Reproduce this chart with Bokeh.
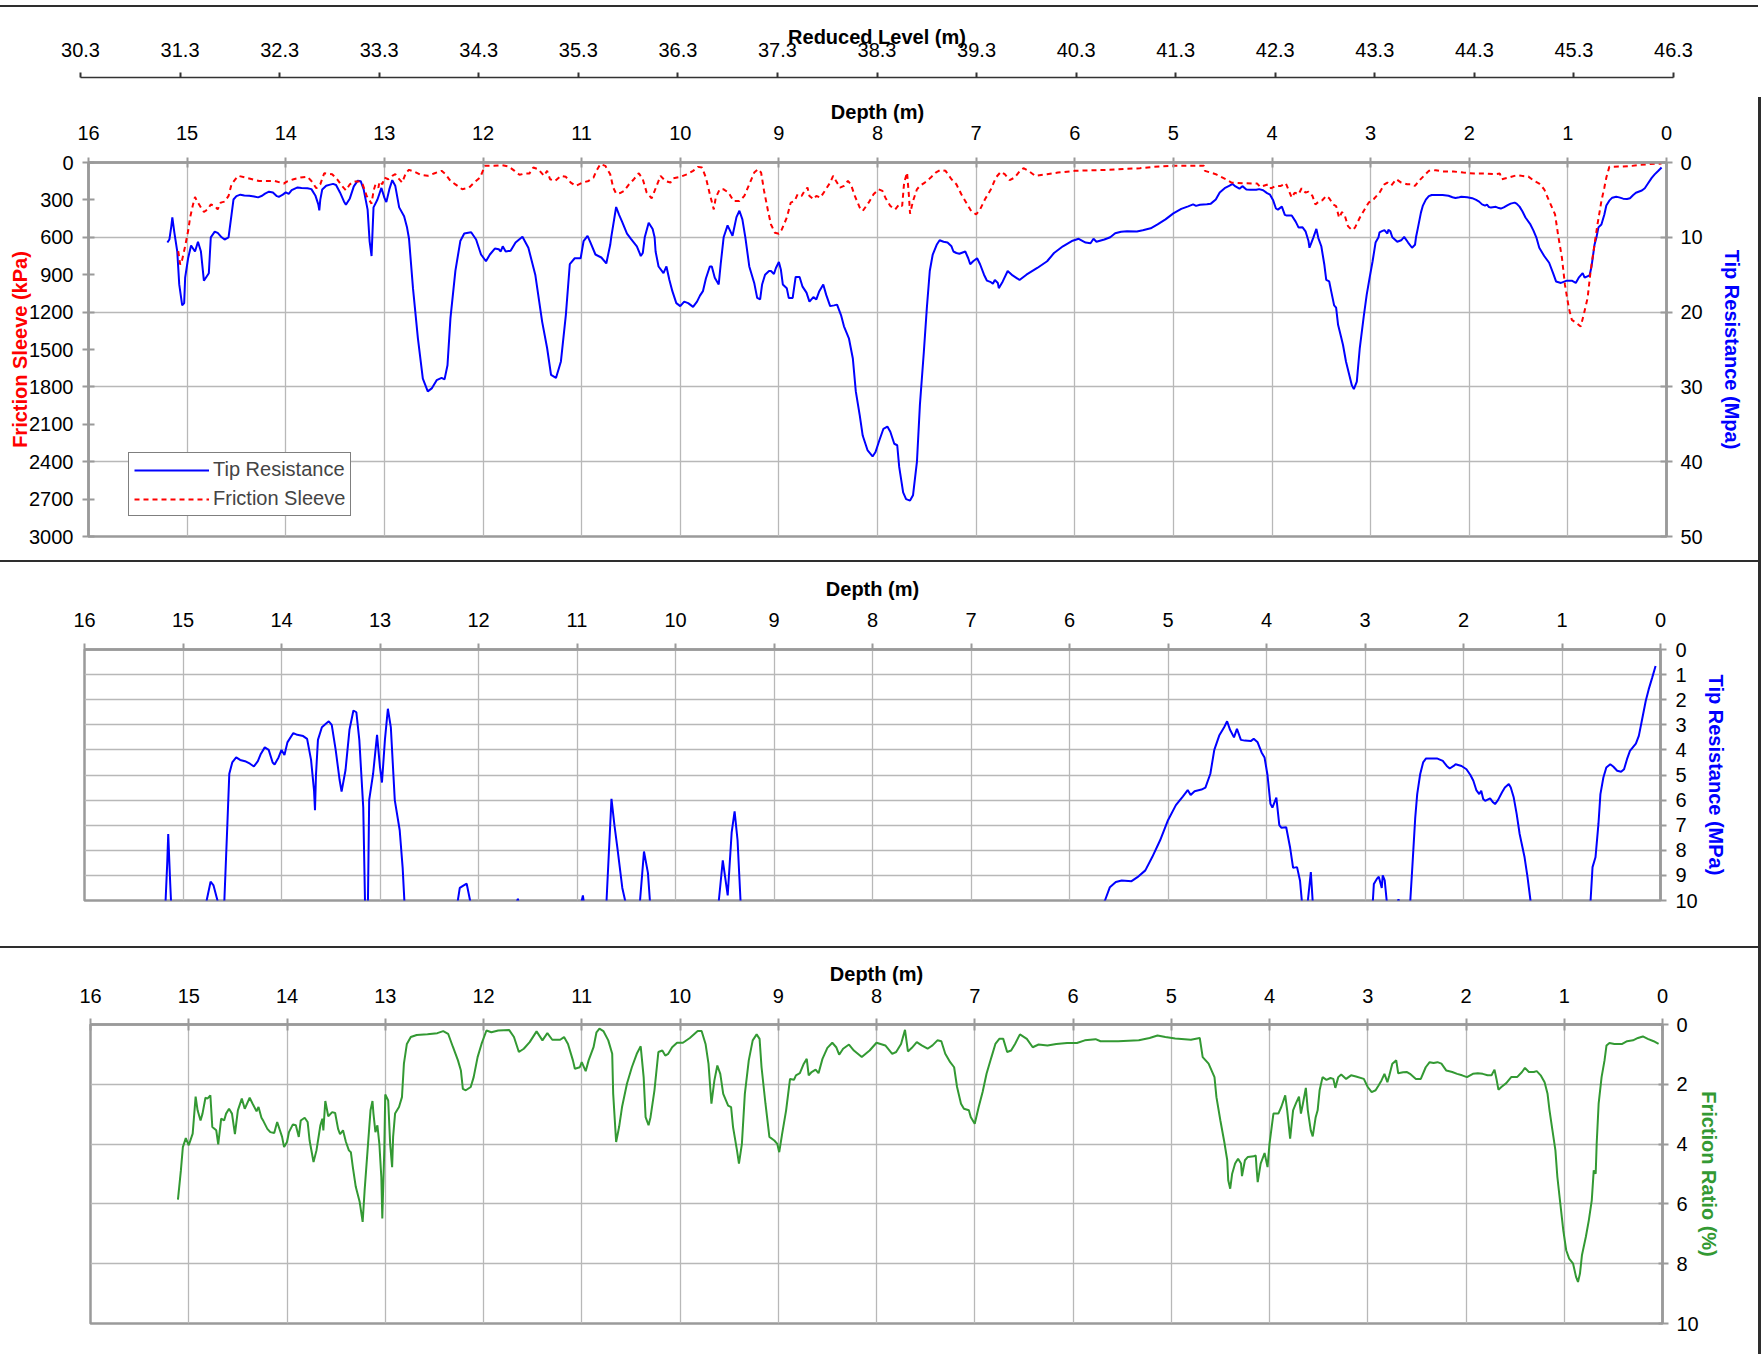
from bokeh.plotting import figure
from bokeh.models import (Range1d, LinearAxis, FixedTicker, Legend, LegendItem, Div,
                          CustomJSTickFormatter)
from bokeh.layouts import column, row
from bokeh.embed import file_html
from bokeh.resources import INLINE

# ---------------- data ----------------
RL_TICKS = [30.3, 31.3, 32.3, 33.3, 34.3, 35.3, 36.3, 37.3, 38.3, 39.3, 40.3,
            41.3, 42.3, 43.3, 44.3, 45.3, 46.3]
DEPTH_TICKS = [0, 1, 2, 3, 4, 5, 6, 7, 8, 9, 10, 11, 12, 13, 14, 15, 16]
FS_TICKS = [0, 300, 600, 900, 1200, 1500, 1800, 2100, 2400, 2700, 3000]
TIP_TICKS = [0, 10, 20, 30, 40, 50]
TIP_ZOOM_TICKS = [0, 1, 2, 3, 4, 5, 6, 7, 8, 9, 10]
FR_TICKS = [0, 2, 4, 6, 8, 10]

TIP_DEPTH = [
    15.20, 15.18, 15.16, 15.15, 15.13, 15.10, 15.08, 15.05, 15.03, 15.02,
    14.99, 14.96, 14.92, 14.89, 14.86, 14.83, 14.78, 14.76, 14.72, 14.69,
    14.65, 14.62, 14.58, 14.55, 14.53, 14.50, 14.46, 14.42, 14.37, 14.32,
    14.28, 14.24, 14.21, 14.17, 14.13, 14.09, 14.07, 14.03, 14.00, 13.97,
    13.94, 13.88, 13.84, 13.78, 13.74, 13.70, 13.67, 13.66, 13.65, 13.63,
    13.59, 13.55, 13.52, 13.49, 13.45, 13.41, 13.39, 13.35, 13.31, 13.27,
    13.24, 13.21, 13.17, 13.15, 13.13, 13.11, 13.07, 13.03, 13.00, 12.98,
    12.95, 12.92, 12.89, 12.85, 12.80, 12.77, 12.75, 12.71, 12.66, 12.61,
    12.56, 12.52, 12.47, 12.42, 12.39, 12.36, 12.33, 12.28, 12.23, 12.19,
    12.15, 12.12, 12.07, 12.02, 11.97, 11.93, 11.88, 11.84, 11.82, 11.80,
    11.77, 11.72, 11.67, 11.60, 11.54, 11.47, 11.40, 11.35, 11.31, 11.26,
    11.21, 11.16, 11.12, 11.07, 11.01, 10.98, 10.94, 10.91, 10.86, 10.80,
    10.75, 10.71, 10.70, 10.65, 10.62, 10.59, 10.54, 10.50, 10.44, 10.40,
    10.38, 10.36, 10.32, 10.28, 10.26, 10.25, 10.22, 10.17, 10.14, 10.11,
    10.08, 10.04, 10.00, 9.96, 9.92, 9.87, 9.83, 9.80, 9.77, 9.74,
    9.70, 9.68, 9.65, 9.61, 9.59, 9.56, 9.52, 9.47, 9.43, 9.40,
    9.37, 9.34, 9.30, 9.25, 9.22, 9.19, 9.17, 9.14, 9.10, 9.08,
    9.05, 9.03, 9.00, 8.98, 8.96, 8.92, 8.90, 8.86, 8.83, 8.79,
    8.76, 8.72, 8.69, 8.65, 8.62, 8.59, 8.55, 8.52, 8.48, 8.44,
    8.41, 8.37, 8.34, 8.29, 8.25, 8.22, 8.18, 8.15, 8.10, 8.05,
    8.02, 7.98, 7.94, 7.90, 7.87, 7.83, 7.80, 7.78, 7.74, 7.71,
    7.67, 7.64, 7.60, 7.57, 7.53, 7.50, 7.47, 7.44, 7.40, 7.37,
    7.33, 7.29, 7.25, 7.23, 7.20, 7.17, 7.11, 7.08, 7.06, 7.03,
    6.99, 6.96, 6.92, 6.89, 6.85, 6.83, 6.81, 6.78, 6.77, 6.73,
    6.68, 6.63, 6.56, 6.49, 6.38, 6.28, 6.21, 6.12, 6.03, 5.96,
    5.89, 5.84, 5.81, 5.78, 5.70, 5.64, 5.59, 5.53, 5.47, 5.37,
    5.31, 5.23, 5.16, 5.08, 5.00, 4.92, 4.85, 4.80, 4.77, 4.73,
    4.66, 4.62, 4.57, 4.53, 4.48, 4.43, 4.40, 4.37, 4.33, 4.30,
    4.26, 4.22, 4.16, 4.13, 4.09, 4.05, 4.02, 3.99, 3.96, 3.94,
    3.90, 3.87, 3.85, 3.80, 3.76, 3.73, 3.69, 3.66, 3.63, 3.62,
    3.60, 3.58, 3.55, 3.53, 3.50, 3.47, 3.45, 3.42, 3.40, 3.37,
    3.35, 3.33, 3.30, 3.28, 3.25, 3.22, 3.19, 3.17, 3.14, 3.11,
    3.07, 3.04, 3.01, 2.98, 2.95, 2.92, 2.91, 2.88, 2.86, 2.83,
    2.82, 2.80, 2.78, 2.73, 2.69, 2.66, 2.62, 2.58, 2.55, 2.54,
    2.52, 2.49, 2.47, 2.44, 2.41, 2.38, 2.32, 2.27, 2.21, 2.17,
    2.14, 2.10, 2.08, 2.02, 1.97, 1.93, 1.90, 1.87, 1.84, 1.82,
    1.80, 1.78, 1.73, 1.70, 1.68, 1.65, 1.61, 1.58, 1.54, 1.52,
    1.49, 1.46, 1.43, 1.38, 1.35, 1.32, 1.29, 1.24, 1.19, 1.15,
    1.12, 1.07, 1.01, 0.96, 0.92, 0.89, 0.85, 0.83, 0.78, 0.76,
    0.73, 0.71, 0.69, 0.66, 0.63, 0.61, 0.58, 0.55, 0.51, 0.48,
    0.44, 0.40, 0.37, 0.34, 0.31, 0.25, 0.22, 0.19, 0.15, 0.12,
    0.085, 0.05]
TIP_MPA = [
    10.7, 10.3, 8.5, 7.35, 9.3, 11.9, 16.3, 19.1, 18.8, 15.4,
    12.8, 11.1, 11.9, 10.6, 11.9, 15.8, 14.8, 10.0, 9.25, 9.4,
    10.0, 10.3, 10.0, 7.0, 4.95, 4.5, 4.3, 4.4, 4.45, 4.55,
    4.66, 4.45, 4.16, 3.9, 4.0, 4.5, 4.58, 4.3, 4.0, 4.2,
    3.7, 3.33, 3.4, 3.45, 3.56, 4.4, 5.6, 6.4, 5.0, 3.6,
    3.1, 2.96, 2.86, 3.0, 4.0, 5.2, 5.66, 4.8, 3.2, 2.43,
    2.5, 3.6, 6.3, 10.5, 12.5, 6.0, 4.95, 3.4, 4.7, 5.3,
    3.6, 2.36, 3.1, 6.0, 7.2, 8.7, 10.2, 16.8, 23.5, 28.9,
    30.6, 30.2, 29.1, 28.8, 29.0, 27.1, 20.8, 14.5, 10.5, 9.5,
    9.4, 9.33, 10.3, 12.3, 13.2, 12.3, 11.5, 11.6, 11.9, 11.2,
    11.9, 11.8, 10.7, 9.93, 11.4, 15.0, 21.3, 24.8, 28.4, 28.8,
    26.6, 20.4, 13.6, 12.8, 12.8, 10.5, 9.8, 10.7, 12.3, 12.7,
    13.5, 11.0, 10.0, 5.95, 7.0, 7.9, 9.5, 10.2, 11.2, 12.5,
    12.1, 10.0, 8.05, 8.9, 10.0, 11.9, 13.9, 14.8, 13.9, 15.7,
    17.2, 18.8, 19.2, 18.6, 18.8, 19.3, 18.6, 17.8, 17.2, 15.5,
    13.9, 13.9, 15.4, 16.3, 13.6, 10.0, 8.4, 9.8, 7.3, 6.45,
    7.6, 10.0, 13.9, 16.1, 18.1, 18.3, 16.3, 15.0, 14.5, 14.5,
    14.9, 14.1, 13.3, 14.3, 16.3, 16.8, 18.1, 18.1, 15.3, 15.3,
    16.6, 17.4, 18.6, 18.0, 18.3, 17.2, 16.3, 17.7, 19.2, 19.1,
    19.0, 20.4, 21.9, 23.5, 26.2, 30.6, 33.8, 36.5, 38.5, 39.3,
    38.7, 37.1, 35.6, 35.3, 36.0, 37.6, 37.8, 40.7, 44.1, 45.0,
    45.2, 44.5, 40.0, 32.4, 25.3, 19.5, 14.5, 12.3, 11.0, 10.4,
    10.6, 10.7, 11.2, 11.9, 12.1, 12.2, 11.9, 12.8, 13.6, 13.2,
    12.8, 13.6, 15.0, 15.8, 16.0, 16.2, 15.7, 16.1, 16.8, 15.9,
    14.5, 15.1, 15.7, 15.0, 14.1, 13.2, 12.1, 11.2, 10.5, 10.2,
    10.7, 10.8, 10.2, 10.6, 10.3, 10.0, 9.47, 9.26, 9.2, 9.23,
    9.07, 8.8, 8.27, 7.6, 6.8, 6.2, 5.86, 5.6, 5.8, 5.65,
    5.58, 5.5, 4.95, 4.0, 3.43, 3.1, 2.86, 3.2, 3.5, 3.16,
    3.6, 3.63, 3.65, 3.56, 3.7, 4.1, 4.3, 5.0, 6.15, 6.3,
    5.9, 7.0, 7.1, 7.08, 7.9, 8.7, 8.67, 9.2, 10.5, 11.4,
    10.7, 10.0, 8.87, 10.1, 11.2, 13.6, 15.7, 15.9, 17.2, 19.1,
    19.4, 21.7, 23.3, 24.4, 26.6, 28.2, 29.8, 30.3, 29.3, 24.8,
    20.6, 17.7, 15.4, 13.2, 10.7, 10.0, 9.34, 9.14, 9.05, 9.5,
    9.0, 9.2, 10.0, 10.6, 10.4, 9.95, 10.7, 11.4, 11.0, 10.0,
    8.7, 6.7, 5.76, 4.97, 4.5, 4.34, 4.34, 4.34, 4.44, 4.64,
    4.74, 4.64, 4.57, 4.64, 4.77, 5.0, 5.23, 5.6, 5.76, 5.63,
    5.96, 6.03, 5.93, 6.09, 6.16, 6.0, 5.7, 5.5, 5.36, 5.5,
    5.9, 6.56, 7.35, 8.28, 9.07, 10.0, 11.4, 12.5, 13.4, 14.8,
    15.9, 16.1, 15.8, 15.8, 16.1, 15.4, 14.8, 15.4, 15.1, 13.9,
    11.0, 10.0, 8.67, 8.28, 6.95, 5.76, 5.1, 4.7, 4.57, 4.66,
    4.83, 4.87, 4.77, 4.37, 4.04, 3.75, 3.44, 2.85, 2.05, 1.59,
    1.13, 0.66]

FS_DEPTH = [
    15.09, 15.07, 15.05, 15.02, 14.99, 14.97, 14.94, 14.92, 14.90, 14.86,
    14.83, 14.79, 14.76, 14.72, 14.69, 14.66, 14.62, 14.58, 14.55, 14.51,
    14.48, 14.41, 14.34, 14.27, 14.20, 14.11, 14.02, 13.99, 13.92, 13.85,
    13.78, 13.74, 13.69, 13.65, 13.61, 13.53, 13.48, 13.43, 13.39, 13.35,
    13.31, 13.25, 13.22, 13.18, 13.13, 13.11, 13.09, 13.06, 13.05, 13.02,
    13.00, 12.96, 12.92, 12.89, 12.85, 12.82, 12.78, 12.75, 12.70, 12.63,
    12.56, 12.49, 12.42, 12.38, 12.33, 12.28, 12.21, 12.14, 12.09, 12.03,
    11.98, 11.89, 11.81, 11.74, 11.68, 11.63, 11.58, 11.53, 11.49, 11.44,
    11.38, 11.35, 11.32, 11.27, 11.21, 11.16, 11.11, 11.06, 10.99, 10.93,
    10.88, 10.85, 10.81, 10.76, 10.71, 10.68, 10.65, 10.61, 10.57, 10.52,
    10.47, 10.42, 10.38, 10.34, 10.29, 10.26, 10.20, 10.15, 10.10, 10.07,
    10.00, 9.93, 9.87, 9.82, 9.78, 9.74, 9.70, 9.66, 9.64, 9.60,
    9.56, 9.51, 9.46, 9.40, 9.35, 9.30, 9.25, 9.21, 9.18, 9.15,
    9.11, 9.08, 9.04, 9.00, 8.97, 8.92, 8.88, 8.84, 8.81, 8.77,
    8.74, 8.71, 8.69, 8.65, 8.62, 8.58, 8.53, 8.48, 8.45, 8.42,
    8.38, 8.34, 8.30, 8.27, 8.23, 8.18, 8.15, 8.09, 8.04, 7.99,
    7.95, 7.92, 7.87, 7.82, 7.78, 7.75, 7.73, 7.70, 7.68, 7.67,
    7.64, 7.60, 7.57, 7.52, 7.46, 7.41, 7.36, 7.31, 7.25, 7.20,
    7.15, 7.10, 7.05, 7.00, 6.96, 6.91, 6.85, 6.80, 6.75, 6.71,
    6.66, 6.61, 6.56, 6.52, 6.47, 6.40, 6.28, 6.17, 6.00, 5.82,
    5.65, 5.47, 5.34, 5.20, 5.00, 4.82, 4.69, 4.68, 4.57, 4.47,
    4.41, 4.29, 4.15, 4.12, 4.04, 4.01, 3.96, 3.91, 3.86, 3.80,
    3.77, 3.73, 3.70, 3.66, 3.63, 3.59, 3.56, 3.52, 3.49, 3.45,
    3.42, 3.38, 3.35, 3.32, 3.29, 3.26, 3.23, 3.19, 3.16, 3.11,
    3.05, 3.02, 2.97, 2.91, 2.86, 2.83, 2.79, 2.74, 2.69, 2.63,
    2.58, 2.55, 2.51, 2.46, 2.41, 2.34, 2.27, 2.16, 2.06, 1.95,
    1.85, 1.74, 1.69, 1.67, 1.60, 1.52, 1.47, 1.40, 1.34, 1.29,
    1.24, 1.19, 1.13, 1.10, 1.06, 1.03, 0.99, 0.96, 0.91, 0.87,
    0.84, 0.80, 0.77, 0.73, 0.70, 0.66, 0.63, 0.61, 0.58, 0.45,
    0.35, 0.28, 0.17, 0.05]
FS_KPA = [
    711, 819, 779, 671, 550, 443, 336, 277, 309, 362,
    397, 376, 336, 349, 376, 322, 314, 268, 175, 134,
    107, 121, 134, 148, 148, 148, 169, 153, 134, 121,
    115, 148, 207, 175, 86, 94, 134, 188, 223, 175,
    153, 153, 175, 268, 330, 228, 175, 201, 153, 175,
    121, 134, 107, 94, 134, 161, 81, 59, 72, 99,
    107, 86, 67, 94, 148, 175, 215, 201, 161, 121,
    27, 27, 21, 32, 67, 99, 89, 89, 40, 54,
    107, 67, 134, 148, 107, 115, 161, 188, 161, 148,
    121, 67, 13, 27, 94, 201, 250, 245, 228, 175,
    134, 86, 134, 242, 287, 228, 107, 148, 161, 126,
    115, 94, 67, 35, 40, 121, 255, 376, 282, 215,
    215, 242, 309, 309, 268, 175, 81, 54, 81, 228,
    389, 497, 564, 572, 537, 443, 322, 309, 255, 268,
    228, 201, 268, 295, 268, 282, 223, 161, 107, 148,
    201, 188, 148, 175, 268, 362, 389, 322, 255, 215,
    228, 282, 349, 376, 336, 349, 161, 81, 282, 411,
    309, 215, 188, 161, 121, 81, 59, 67, 134, 175,
    255, 322, 389, 416, 376, 295, 215, 121, 75, 94,
    142, 121, 72, 46, 67, 107, 94, 81, 67, 62,
    59, 51, 46, 35, 27, 27, 27, 67, 94, 134,
    161, 166, 169, 196, 175, 207, 188, 188, 166, 282,
    242, 255, 207, 242, 234, 268, 336, 309, 303, 268,
    287, 336, 349, 443, 397, 430, 510, 542, 524, 443,
    362, 322, 295, 242, 175, 161, 183, 134, 161, 175,
    175, 188, 148, 107, 67, 62, 72, 72, 81, 89,
    89, 94, 89, 134, 121, 102, 107, 113, 148, 169,
    215, 309, 416, 577, 765, 980, 1168, 1262, 1289, 1316,
    1222, 1087, 873, 658, 497, 309, 201, 121, 35, 32,
    27, 19, 13, 8]

FR_DEPTH = [
    15.11, 15.08, 15.06, 15.03, 15.00, 14.96, 14.93, 14.91, 14.88, 14.86,
    14.83, 14.81, 14.78, 14.76, 14.72, 14.70, 14.67, 14.64, 14.62, 14.59,
    14.56, 14.53, 14.50, 14.46, 14.43, 14.38, 14.35, 14.31, 14.29, 14.26,
    14.24, 14.20, 14.17, 14.13, 14.10, 14.05, 14.03, 14.00, 13.98, 13.94,
    13.91, 13.88, 13.86, 13.82, 13.79, 13.77, 13.73, 13.70, 13.66, 13.64,
    13.63, 13.61, 13.58, 13.54, 13.51, 13.48, 13.46, 13.43, 13.40, 13.37,
    13.35, 13.33, 13.30, 13.26, 13.23, 13.21, 13.18, 13.15, 13.13, 13.12,
    13.10, 13.08, 13.06, 13.04, 13.03, 13.01, 13.00, 12.97, 12.95, 12.93,
    12.92, 12.90, 12.86, 12.83, 12.81, 12.78, 12.74, 12.68, 12.57, 12.47,
    12.41, 12.36, 12.31, 12.26, 12.23, 12.21, 12.18, 12.13, 12.10, 12.06,
    12.02, 11.97, 11.92, 11.85, 11.74, 11.69, 11.64, 11.59, 11.53, 11.46,
    11.40, 11.35, 11.30, 11.22, 11.18, 11.14, 11.09, 11.07, 11.02, 11.00,
    10.96, 10.93, 10.88, 10.85, 10.82, 10.78, 10.73, 10.69, 10.68, 10.65,
    10.62, 10.59, 10.54, 10.49, 10.44, 10.40, 10.37, 10.35, 10.32, 10.30,
    10.26, 10.22, 10.18, 10.15, 10.12, 10.08, 10.03, 9.97, 9.90, 9.82,
    9.78, 9.74, 9.71, 9.68, 9.65, 9.62, 9.59, 9.56, 9.51, 9.48,
    9.46, 9.42, 9.40, 9.37, 9.34, 9.30, 9.26, 9.22, 9.19, 9.17,
    9.13, 9.09, 9.04, 9.01, 8.99, 8.96, 8.92, 8.88, 8.84, 8.82,
    8.78, 8.74, 8.71, 8.69, 8.66, 8.62, 8.59, 8.55, 8.50, 8.45,
    8.41, 8.38, 8.34, 8.28, 8.23, 8.15, 8.07, 8.00, 7.91, 7.84,
    7.80, 7.75, 7.71, 7.68, 7.64, 7.59, 7.54, 7.48, 7.43, 7.38,
    7.34, 7.30, 7.25, 7.21, 7.18, 7.14, 7.11, 7.06, 7.04, 7.00,
    6.96, 6.92, 6.88, 6.83, 6.79, 6.75, 6.71, 6.67, 6.63, 6.59,
    6.54, 6.47, 6.41, 6.35, 6.26, 6.17, 6.06, 5.96, 5.88, 5.77,
    5.72, 5.54, 5.33, 5.22, 5.14, 5.06, 4.96, 4.80, 4.71, 4.68,
    4.62, 4.56, 4.54, 4.50, 4.46, 4.43, 4.42, 4.40, 4.38, 4.35,
    4.32, 4.29, 4.28, 4.25, 4.22, 4.16, 4.14, 4.13, 4.12, 4.09,
    4.05, 4.02, 4.00, 3.96, 3.91, 3.88, 3.84, 3.82, 3.79, 3.76,
    3.73, 3.70, 3.68, 3.66, 3.63, 3.61, 3.58, 3.56, 3.53, 3.51,
    3.49, 3.46, 3.42, 3.38, 3.35, 3.33, 3.30, 3.27, 3.22, 3.17,
    3.12, 3.04, 3.00, 2.96, 2.92, 2.89, 2.86, 2.83, 2.80, 2.78,
    2.75, 2.71, 2.69, 2.64, 2.60, 2.57, 2.51, 2.46, 2.41, 2.37,
    2.33, 2.29, 2.25, 2.20, 2.14, 2.09, 2.04, 1.99, 1.93, 1.88,
    1.83, 1.78, 1.74, 1.71, 1.69, 1.67, 1.64, 1.59, 1.54, 1.48,
    1.43, 1.40, 1.36, 1.31, 1.28, 1.24, 1.20, 1.17, 1.15, 1.12,
    1.09, 1.07, 1.04, 1.01, 0.98, 0.95, 0.91, 0.88, 0.86, 0.84,
    0.82, 0.78, 0.75, 0.72, 0.71, 0.70, 0.68, 0.67, 0.65, 0.62,
    0.59, 0.57, 0.54, 0.49, 0.41, 0.36, 0.30, 0.25, 0.20, 0.15,
    0.09, 0.04]
FR_PCT = [
    5.86, 4.88, 4.10, 3.80, 4.04, 3.65, 2.41, 2.87, 3.21, 2.98,
    2.45, 2.48, 2.37, 3.43, 3.54, 4.01, 3.15, 3.21, 2.98, 2.82,
    2.98, 3.67, 2.87, 2.48, 2.82, 2.45, 2.65, 2.90, 2.76, 3.12,
    3.23, 3.49, 3.60, 3.63, 3.26, 3.76, 4.10, 3.93, 3.60, 3.34,
    3.37, 3.76, 3.21, 3.12, 3.26, 3.88, 4.60, 4.21, 3.37, 3.15,
    3.54, 2.56, 3.07, 2.93, 2.96, 3.49, 3.67, 3.54, 3.93, 4.21,
    4.27, 4.77, 5.43, 5.94, 6.60, 5.55, 4.21, 2.87, 2.56, 2.98,
    3.60, 3.37, 3.99, 5.10, 6.49, 4.21, 2.34, 2.54, 3.99, 4.77,
    3.76, 2.98, 2.76, 2.43, 1.31, 0.65, 0.42, 0.35, 0.33, 0.29,
    0.22, 0.31, 0.76, 1.20, 1.54, 2.15, 2.20, 2.09, 1.76, 1.09,
    0.65, 0.20, 0.26, 0.20, 0.18, 0.42, 0.92, 0.81, 0.59, 0.23,
    0.53, 0.29, 0.51, 0.51, 0.42, 0.65, 1.20, 1.48, 1.43, 1.26,
    1.56, 1.20, 0.76, 0.26, 0.14, 0.22, 0.53, 0.98, 2.32, 3.93,
    3.43, 2.76, 1.98, 1.43, 0.98, 0.73, 1.76, 3.10, 3.37, 3.10,
    2.20, 0.92, 0.87, 1.04, 0.98, 0.76, 0.61, 0.61, 0.45, 0.22,
    0.22, 0.65, 1.31, 2.65, 1.87, 1.37, 1.65, 2.32, 2.71, 2.76,
    3.43, 4.21, 4.65, 3.99, 2.32, 1.20, 0.53, 0.33, 0.48, 1.43,
    2.65, 3.76, 3.88, 3.99, 4.27, 3.65, 2.87, 1.82, 1.85, 1.70,
    1.63, 1.31, 1.15, 1.70, 1.59, 1.51, 1.63, 1.15, 0.78, 0.61,
    0.76, 1.01, 0.81, 0.67, 0.87, 1.09, 0.87, 0.61, 0.70, 0.98,
    0.92, 0.65, 0.18, 0.90, 0.78, 0.59, 0.70, 0.81, 0.70, 0.53,
    0.56, 0.98, 1.26, 1.43, 2.09, 2.65, 2.82, 2.87, 3.10, 3.32,
    2.76, 2.26, 1.65, 1.09, 0.65, 0.48, 0.48, 0.92, 0.87, 0.65,
    0.33, 0.48, 0.76, 0.67, 0.70, 0.65, 0.62, 0.62, 0.53, 0.49,
    0.56, 0.56, 0.53, 0.45, 0.37, 0.42, 0.47, 0.51, 0.45, 1.09,
    1.31, 1.76, 2.43, 3.21, 3.93, 4.54, 5.21, 5.49, 4.99, 4.65,
    4.49, 4.65, 5.07, 4.54, 4.43, 4.41, 4.38, 4.88, 5.27, 4.65,
    4.30, 4.77, 3.99, 2.98, 2.98, 2.76, 2.37, 2.87, 3.82, 2.87,
    2.63, 2.41, 2.98, 2.65, 2.12, 2.87, 3.54, 3.74, 3.10, 2.87,
    2.20, 1.76, 1.85, 1.79, 1.82, 2.12, 1.76, 1.67, 1.82, 1.70,
    1.74, 1.82, 2.09, 2.26, 2.20, 2.04, 1.87, 1.65, 1.93, 1.70,
    1.31, 1.20, 1.63, 1.60, 1.59, 1.65, 1.82, 1.82, 1.43, 1.26,
    1.29, 1.26, 1.31, 1.54, 1.59, 1.65, 1.70, 1.76, 1.65, 1.63,
    1.65, 1.70, 1.70, 1.51, 1.82, 2.18, 2.09, 1.96, 1.76, 1.76,
    1.59, 1.45, 1.59, 1.59, 1.56, 1.70, 1.93, 2.32, 2.87, 3.54,
    4.21, 5.10, 5.99, 6.88, 7.55, 7.83, 8.00, 8.44, 8.61, 8.33,
    7.72, 7.10, 6.55, 5.88, 5.38, 4.88, 4.99, 3.99, 2.65, 1.76,
    1.20, 0.70, 0.62, 0.65, 0.65, 0.56, 0.53, 0.45, 0.40, 0.48,
    0.56, 0.65]

# ---------------- style ----------------
FONT = "Liberation Sans"
AXC = "#9a9a9a"
GRIDC = "#b8b8b8"
BLUE = "#0000ff"
RED = "#ff0000"
GREEN = "#339933"
W = 1758


def style_axis(ax, tick_in, tick_out, standoff, color=AXC, lw=2.5):
    ax.axis_line_color = color
    ax.axis_line_width = lw
    ax.major_tick_line_color = color
    ax.major_tick_line_width = 2
    ax.major_tick_in = tick_in
    ax.major_tick_out = tick_out
    ax.minor_tick_line_color = None
    ax.major_label_text_font = FONT
    ax.major_label_text_font_size = "20px"
    ax.major_label_text_color = "#000000"
    ax.major_label_standoff = standoff
    ax.axis_label_text_font = FONT
    ax.axis_label_text_font_size = "20px"
    ax.axis_label_text_font_style = "bold"
    ax.axis_label_text_color = "#000000"


def style_fig(p):
    p.outline_line_color = AXC
    p.outline_line_width = 2.5
    p.background_fill_color = "white"
    p.border_fill_color = "white"
    p.xgrid.ticker = FixedTicker(ticks=DEPTH_TICKS)
    p.grid.grid_line_color = GRIDC
    p.grid.grid_line_width = 1.3


# ---------------- Reduced level axis strip ----------------
rl = figure(width=W, height=83, x_range=Range1d(30.3, 46.3), y_range=Range1d(0, 1),
            x_axis_location="above", y_axis_location=None, toolbar_location=None,
            output_backend="svg", min_border_left=80, min_border_right=85,
            min_border_top=70, min_border_bottom=0, frame_align=False)
rl.outline_line_color = None
rl.grid.visible = False
rax = rl.xaxis[0]
rax.ticker = FixedTicker(ticks=RL_TICKS)
rax.formatter = CustomJSTickFormatter(code="return tick.toFixed(1);")
rax.axis_label = "Reduced Level (m)"
style_axis(rax, 0, 5, 16, color="#333333", lw=1.5)
rax.axis_label_standoff = -8

# ---------------- top chart ----------------
p1 = figure(width=W, height=470, x_range=Range1d(16, 0), y_range=Range1d(3000, 0),
            x_axis_location="above", y_axis_location="left", toolbar_location=None,
            output_backend="svg", min_border_left=88, min_border_right=92,
            min_border_top=72, min_border_bottom=24, frame_align=False)
style_fig(p1)
p1.extra_y_ranges = {"tip": Range1d(50, 0)}
p1.ygrid.ticker = FixedTicker(ticks=[600, 1200, 1800, 2400])

xa = p1.xaxis[0]
xa.ticker = FixedTicker(ticks=DEPTH_TICKS)
xa.axis_label = "Depth (m)"
style_axis(xa, 5, 5, 18)
xa.axis_label_standoff = 0

ya = p1.yaxis[0]
ya.ticker = FixedTicker(ticks=FS_TICKS)
ya.axis_label = "Friction Sleeve (kPa)"
style_axis(ya, 6, 6, 9)
ya.axis_label_text_color = RED
ya.axis_label_standoff = -5

tip_ax = LinearAxis(y_range_name="tip", ticker=FixedTicker(ticks=TIP_TICKS),
                    axis_label="Tip Resistance (Mpa)")
style_axis(tip_ax, 6, 6, 8)
tip_ax.axis_label_text_color = BLUE
tip_ax.axis_label_standoff = 15
p1.add_layout(tip_ax, "right")

r_tip = p1.line(TIP_DEPTH, TIP_MPA, y_range_name="tip", line_color=BLUE, line_width=2)
r_fs = p1.line(FS_DEPTH, FS_KPA, line_color=RED, line_width=2, line_dash="5 4")

legend = Legend(items=[LegendItem(label="Tip Resistance", renderers=[r_tip]),
                       LegendItem(label="Friction Sleeve", renderers=[r_fs])],
                location=(40, 20), margin=0, padding=5, spacing=6,
                glyph_width=75, glyph_height=20, label_height=23, label_standoff=4,
                label_text_font=FONT, label_text_font_size="20px",
                border_line_color="#000000", border_line_width=1,
                background_fill_color="white", background_fill_alpha=1.0)
p1.add_layout(legend)

# ---------------- middle chart ----------------
p2 = figure(width=W, height=384, x_range=Range1d(16, 0), y_range=Range1d(10, 0),
            x_axis_location="above", y_axis_location="right", toolbar_location=None,
            output_backend="svg", min_border_left=84, min_border_right=98,
            min_border_top=87, min_border_bottom=46, frame_align=False)
style_fig(p2)
p2.ygrid.ticker = FixedTicker(ticks=TIP_ZOOM_TICKS)
xa2 = p2.xaxis[0]
xa2.ticker = FixedTicker(ticks=DEPTH_TICKS)
xa2.axis_label = "Depth (m)"
style_axis(xa2, 0, 6, 17)
xa2.axis_label_standoff = 10
ya2 = p2.yaxis[0]
ya2.ticker = FixedTicker(ticks=TIP_ZOOM_TICKS)
ya2.axis_label = "Tip Resistance (MPa)"
style_axis(ya2, 0, 6, 9)
ya2.axis_label_text_color = BLUE
ya2.axis_label_standoff = 4
p2.line(TIP_DEPTH, TIP_MPA, line_color=BLUE, line_width=2)

# ---------------- bottom chart ----------------
p3 = figure(width=W, height=406, x_range=Range1d(16, 0), y_range=Range1d(10, 0),
            x_axis_location="above", y_axis_location="right", toolbar_location=None,
            output_backend="svg", min_border_left=90, min_border_right=96,
            min_border_top=76, min_border_bottom=31, frame_align=False)
style_fig(p3)
p3.ygrid.ticker = FixedTicker(ticks=FR_TICKS)
xa3 = p3.xaxis[0]
xa3.ticker = FixedTicker(ticks=DEPTH_TICKS)
xa3.axis_label = "Depth (m)"
style_axis(xa3, 6, 6, 16)
xa3.axis_label_standoff = 1
ya3 = p3.yaxis[0]
ya3.ticker = FixedTicker(ticks=FR_TICKS)
ya3.axis_label = "Friction Ratio (%)"
style_axis(ya3, 4, 6, 8)
ya3.axis_label_text_color = GREEN
ya3.axis_label_standoff = -4
p3.line(FR_DEPTH, FR_PCT, line_color=GREEN, line_width=2)

# ---------------- page assembly ----------------
LINE = {"background-color": "#2e2e2e"}


def hline(h=2):
    return Div(text="", width=W, height=h, margin=0, styles=LINE)


main = column(Div(text="", width=W, height=5, margin=0), hline(2), rl, p1, hline(2),
              p2, hline(2), p3, spacing=0)
side = column(Div(text="", width=3, height=97, margin=0),
              Div(text="", width=3, height=1257, margin=0, styles=LINE), spacing=0)
layout = row(main, side, spacing=0)

open("out.html", "w").write(file_html(layout, INLINE))
